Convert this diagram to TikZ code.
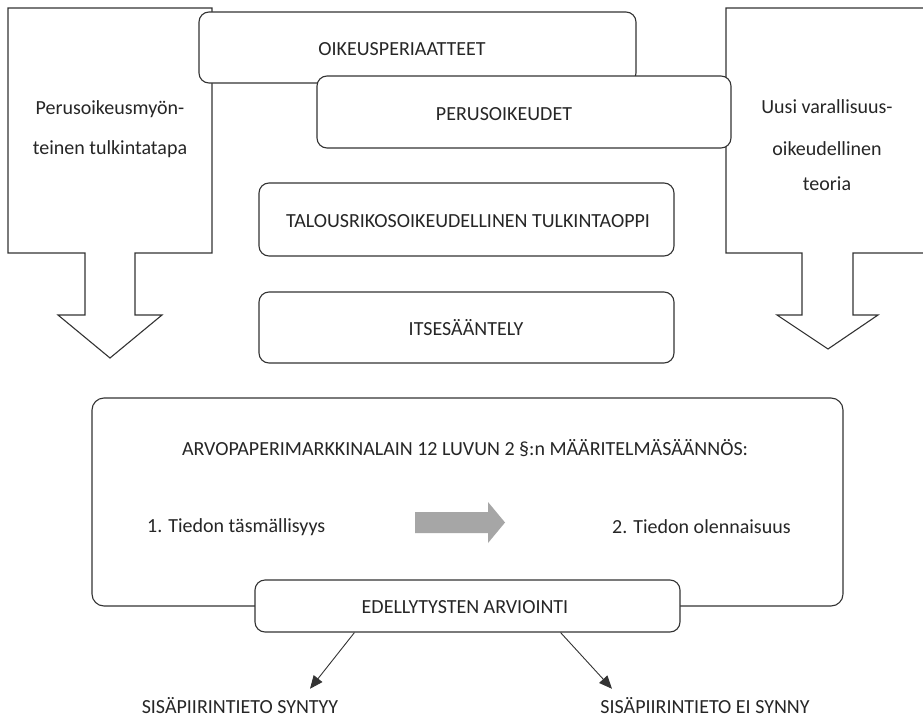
\documentclass[tikz,border=0pt]{standalone}
\usepackage{fontspec}
\setmainfont{Carlito}
\usetikzlibrary{arrows.meta,calc}

\definecolor{ink}{HTML}{262626}
\definecolor{edge}{HTML}{333333}
\definecolor{arrowgray}{HTML}{A6A6A6}

\tikzset{
  txt/.style={text=ink, inner sep=0pt, anchor=base,
    font=\fontsize{20}{24}\selectfont},
  box/.style={draw=edge, fill=white, line width=1.1pt, rounded corners=10pt,
    inner sep=0pt},
  bigbox/.style={box, rounded corners=12pt},
  blockarrow/.style={draw=edge, fill=white, line width=1.1pt},
  link/.style={draw=edge, line width=0.9pt,
    -{Triangle[length=13pt,width=11pt]}}
}

\begin{document}
\begin{tikzpicture}[x=1pt,y=-1pt]
\useasboundingbox (0,0) rectangle (923,717);

% side block arrows
\draw[blockarrow] (8,8) -- (212,8) -- (212,253) -- (135,253) -- (135,315)
  -- (162,315) -- (110,358) -- (58,315) -- (85,315) -- (85,253) -- (8,253) -- cycle;
\node[txt] (pl1) at (110,114) {Perusoikeusmyön-};
\node[txt] (pl2) at (110,154) {teinen tulkintatapa};

\draw[blockarrow] (726,8) -- (940,8) -- (940,253) -- (853,253) -- (853,315)
  -- (878,315) -- (828,349) -- (777,315) -- (802,315) -- (802,253) -- (726,253) -- cycle;
\node[txt] (pr1) at (827,113) {Uusi varallisuus-};
\node[txt] (pr2) at (827,155) {oikeudellinen};
\node[txt] (pr3) at (827,190) {teoria};

% stacked principle boxes
\node[box, minimum width=437pt, minimum height=71pt] (oik) at (417.5,47.5) {};
\node[txt] (oikt) at (402,56) {OIKEUSPERIAATTEET};
\node[box, minimum width=414pt, minimum height=72pt] (per) at (524,112) {};
\node[txt] (pert) at (504,120) {PERUSOIKEUDET};
\node[box, minimum width=415pt, minimum height=73pt] (tal) at (466.5,219.5) {};
\node[txt] (talt) at (468,227) {TALOUSRIKOSOIKEUDELLINEN TULKINTAOPPI};
\node[box, minimum width=415pt, minimum height=71pt] (its) at (466.5,327.5) {};
\node[txt] (itst) at (466,335) {ITSESÄÄNTELY};

% definition box
\node[bigbox, minimum width=751pt, minimum height=208pt] (main) at (467.5,502) {};
\node[txt] (mt) at (465,455) {ARVOPAPERIMARKKINALAIN 12 LUVUN 2 §:n MÄÄRITELMÄSÄÄNNÖS:};
\node[txt, anchor=base west] (c1) at (147,532) {1. Tiedon täsmällisyys};
\node[txt, anchor=base west] (c2) at (612,533) {2. Tiedon olennaisuus};
\fill[arrowgray] (415,512) -- (488,512) -- (488,502) -- (505,522.5) -- (488,543)
  -- (488,533) -- (415,533) -- cycle;

% assessment and outcomes
\node[box, minimum width=425pt, minimum height=52pt] (edel) at (467.5,606) {};
\node[txt] (edelt) at (465,613) {EDELLYTYSTEN ARVIOINTI};
\node[txt] (yes) at (240,713) {SISÄPIIRINTIETO SYNTYY};
\node[txt] (no) at (705,713) {SISÄPIIRINTIETO EI SYNNY};

\draw[link] ($(edel.south west)+(100,0)$) -- ($(yes.north)+(70,-8)$);
\draw[link] ($(edel.south east)+(-120,0)$) -- ($(no.north)+(-93,-8)$);
\end{tikzpicture}
\end{document}
